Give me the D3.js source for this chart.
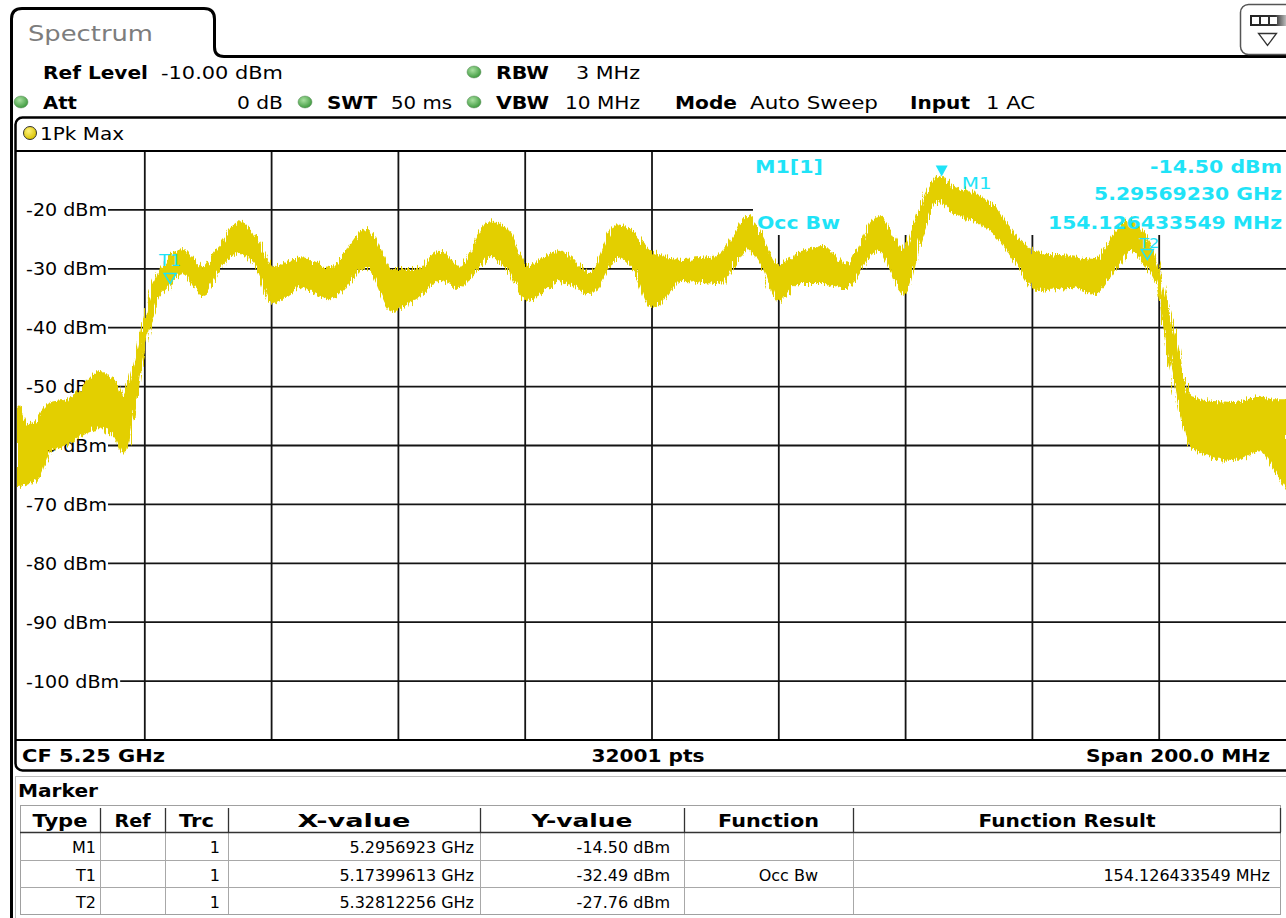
<!DOCTYPE html>
<html><head><meta charset="utf-8">
<script src="https://cdn.jsdelivr.net/npm/d3@7"></script>
<style>html,body{margin:0;padding:0;background:#fff;overflow:hidden}</style>
</head><body>
<svg id="c" width="1286" height="918"></svg>
<script>
// ---------- data ----------
const startMHz = 5150, stopMHz = 5350;
const refLevel = -10, bottomLevel = -110;
const freqOffsetMHz = [0,1.6,3.2,5.1,7.7,10.3,12.9,14.5,15.6,16.6,17.7,18.5,19.2,20.3,21.9,23.5,26.0,29.2,31.4,35.0,
  37.7,40.2,44.5,49.2,55.0,59.1,62.9,66.6,69.7,74.4,77.1,80.3,85.5,90.2,94.5,97.0,100.0,104.9,110.3,112.8,
  115.0,117.5,119.9,123.3,127.1,130.4,135.8,139.7,142.4,145.3,147.5,150.6,153.9,157.9,160.6,166.1,169.9,173.2,175.4,177.6,
  179.8,181.2,182.8,184.4,186.4,191.6,195.9,197.9,200.0];
const traceUpper = [-53.1,-56.5,-55.7,-52.8,-52.3,-50.1,-47.5,-48.5,-49.4,-51.8,-48.9,-45.5,-42.1,-36.5,-31.4,-28.5,-26.8,-29.9,-26.8,-22.1,
  -25.1,-29.7,-28.2,-29.9,-23.4,-30.2,-30.2,-27.1,-29.7,-22.1,-23.4,-29.7,-27.1,-30.7,-22.6,-23.9,-27.3,-28.5,-28.0,-24.6,
  -21.2,-25.1,-29.4,-27.3,-26.3,-29.4,-21.2,-26.8,-19.5,-14.4,-16.1,-17.1,-19.5,-25.1,-27.3,-28.0,-28.5,-23.9,-21.7,-24.3,
  -29.7,-36.1,-42.6,-51.1,-52.3,-52.8,-51.9,-52.3,-52.3];
const traceLower = [-66.7,-66.4,-65.5,-60.8,-59.9,-57.9,-56.9,-57.7,-59.1,-61.3,-57.4,-52.3,-47.2,-42.1,-35.3,-33.1,-30.7,-34.4,-30.7,-27.3,
  -29.7,-35.8,-33.1,-35.0,-29.7,-37.0,-34.8,-31.9,-33.1,-28.0,-29.7,-35.3,-31.9,-34.1,-28.0,-29.7,-36.5,-31.9,-32.4,-29.7,
  -26.5,-29.7,-35.3,-32.4,-32.4,-33.1,-26.8,-34.1,-24.6,-18.3,-20.5,-21.7,-23.9,-29.7,-33.6,-33.1,-34.1,-29.7,-26.8,-28.8,
  -33.6,-42.9,-51.1,-59.1,-61.1,-62.5,-60.8,-63.6,-67.0];
const yTicks = [-20,-30,-40,-50,-60,-70,-80,-90,-100];
const xGridMHz = [5170,5190,5210,5230,5250,5270,5290,5310,5330];

const markerTypes = ["M1","T1","T2"];
const markerFreqMHz = [5295.6923, 5173.99613, 5328.12256];
const markerXLabels = ["5.2956923 GHz","5.17399613 GHz","5.32812256 GHz"];
const markerLevels = [-14.50, -32.49, -27.76];
const markerTrc = ["1","1","1"];
const markerFunctions = ["", "Occ Bw", ""];
const markerResults = ["", "154.126433549 MHz", ""];
const tableHeaders = ["Type","Ref","Trc","X-value","Y-value","Function","Function Result"];

// ---------- drawing ----------
const svg = d3.select("#c");
const FONT = "DejaVu Sans";
const CYAN = "#1fe3f7";
const YEL = "#e3cf00";
function T(p, s, x, y, o = {}) {
  const t = p.append("text").attr("x", x).attr("y", y).text(s)
    .attr("font-family", FONT).attr("font-size", o.size || 17)
    .attr("font-weight", o.bold ? "bold" : "normal")
    .attr("fill", o.fill || "#000").attr("text-anchor", o.anchor || "start");
  if (o.w) t.attr("textLength", o.w).attr("lengthAdjust", "spacingAndGlyphs");
  return t;
}

const defs = svg.append("defs");
const f = defs.append("filter").attr("id", "noise").attr("x", "-2%").attr("y", "-10%").attr("width", "104%").attr("height", "120%");
f.append("feTurbulence").attr("type", "fractalNoise").attr("baseFrequency", "0.8 0.04").attr("numOctaves", 2).attr("seed", 5).attr("result", "t");
f.append("feDisplacementMap").attr("in", "SourceGraphic").attr("in2", "t").attr("scale", 11)
  .attr("xChannelSelector", "R").attr("yChannelSelector", "G");
const gg = defs.append("radialGradient").attr("id", "gdot").attr("cx", "40%").attr("cy", "35%").attr("r", "65%");
gg.append("stop").attr("offset", "0%").attr("stop-color", "#a8e0a0");
gg.append("stop").attr("offset", "100%").attr("stop-color", "#3f9a3f");
const yg = defs.append("radialGradient").attr("id", "ydot").attr("cx", "40%").attr("cy", "35%").attr("r", "65%");
yg.append("stop").attr("offset", "0%").attr("stop-color", "#fff27a");
yg.append("stop").attr("offset", "100%").attr("stop-color", "#d9c200");
const bg = defs.append("linearGradient").attr("id", "bar").attr("x1", "0").attr("x2", "1");
bg.append("stop").attr("offset", "0%").attr("stop-color", "#222");
bg.append("stop").attr("offset", "70%").attr("stop-color", "#333");
bg.append("stop").attr("offset", "100%").attr("stop-color", "#bbb");

// plot geometry via scales
const x = d3.scaleLinear().domain([startMHz, stopMHz]).range([18, 1286]);
const y = d3.scaleLinear().domain([refLevel, bottomLevel]).range([151, 740]);
defs.append("clipPath").attr("id", "plotclip").append("rect")
  .attr("x", 17).attr("y", 151).attr("width", 1272).attr("height", 589);

// ---- frame: tab + panel border ----
svg.append("path").attr("d", "M11.5,918 L11.5,19 Q11.5,8.5 22,8.5 L204,8.5 Q214.5,8.5 214.5,19 L214.5,47 Q214.5,56.5 224,56.5 L1290,56.5")
  .attr("fill", "none").attr("stroke", "#000").attr("stroke-width", 3);
T(svg, "Spectrum", 28, 41, { size: 21, fill: "#7d7d7d", w: 125 });

// top-right icon
svg.append("rect").attr("x", 1240.5).attr("y", 4.5).attr("width", 60).attr("height", 50).attr("rx", 8)
  .attr("fill", "#fff").attr("stroke", "#555").attr("stroke-width", 1.5);
svg.append("rect").attr("x", 1250).attr("y", 15).attr("width", 36).attr("height", 11).attr("fill", "url(#bar)");
[1252, 1261, 1270].forEach(xx => svg.append("rect").attr("x", xx).attr("y", 17).attr("width", 7).attr("height", 7).attr("fill", "#fff"));
svg.append("path").attr("d", "M1258.5,33.5 L1276.5,33.5 L1267.5,45.5 Z").attr("fill", "#fff").attr("stroke", "#333").attr("stroke-width", 1.3);

// ---- header settings ----
const dot = (cx, cy) => svg.append("ellipse").attr("cx", cx).attr("cy", cy).attr("rx", 7).attr("ry", 6)
  .attr("fill", "url(#gdot)").attr("stroke", "#5a8a5a").attr("stroke-width", 0.5);
T(svg, "Ref Level", 43, 79, { bold: true, w: 105 });
T(svg, "-10.00 dBm", 161, 79, { w: 122 });
dot(474, 72);
T(svg, "RBW", 496, 79, { bold: true, w: 53 });
T(svg, "3 MHz", 640, 79, { anchor: "end", w: 64 });
dot(21, 102);
T(svg, "Att", 43, 109, { bold: true, w: 34 });
T(svg, "0 dB", 283, 109, { anchor: "end", w: 46 });
dot(305, 102);
T(svg, "SWT", 327, 109, { bold: true, w: 50 });
T(svg, "50 ms", 391, 109, { w: 61 });
dot(474, 102);
T(svg, "VBW", 496, 109, { bold: true, w: 53 });
T(svg, "10 MHz", 640, 109, { anchor: "end", w: 75 });
T(svg, "Mode", 675, 109, { bold: true, w: 62 });
T(svg, "Auto Sweep", 750, 109, { w: 128 });
T(svg, "Input", 910, 109, { bold: true, w: 60 });
T(svg, "1 AC", 986, 109, { w: 49 });

// ---- diagram box ----
svg.append("rect").attr("x", 15.5).attr("y", 117.5).attr("width", 1290).attr("height", 653).attr("rx", 7)
  .attr("fill", "#fff").attr("stroke", "#000").attr("stroke-width", 2.5);
svg.append("ellipse").attr("cx", 30).attr("cy", 133).attr("rx", 6.5).attr("ry", 6.5)
  .attr("fill", "url(#ydot)").attr("stroke", "#333").attr("stroke-width", 1);
T(svg, "1Pk Max", 40, 140, { w: 84 });

// grid
const grid = svg.append("g");
grid.selectAll("line.v").data(xGridMHz).join("line")
  .attr("x1", d => x(d)).attr("x2", d => x(d)).attr("y1", 151).attr("y2", 740)
  .attr("stroke", "#141414").attr("stroke-width", 1.8);
grid.selectAll("line.h").data(yTicks).join("line")
  .attr("x1", 18).attr("x2", 1286).attr("y1", d => y(d)).attr("y2", d => y(d))
  .attr("stroke", "#141414").attr("stroke-width", 1.8);
// y tick labels with white background
const labG = svg.append("g");
yTicks.forEach(v => {
  const t = T(labG, v + " dBm", 26, y(v) + 6.5, { size: 18 });
  const len = t.node().getComputedTextLength() * 1.06;
  t.attr("textLength", len).attr("lengthAdjust", "spacingAndGlyphs");
  labG.insert("rect", "text").attr("x", 17).attr("y", y(v) - 2).attr("width", 26 + len - 17 + 1).attr("height", 4).attr("fill", "#fff");
});
// marker-info area background
svg.append("rect").attr("x", 753).attr("y", 152).attr("width", 540).attr("height", 83).attr("fill", "#fff");

// plot frame lines
svg.append("line").attr("x1", 15).attr("x2", 1290).attr("y1", 151).attr("y2", 151).attr("stroke", "#000").attr("stroke-width", 2);
svg.append("line").attr("x1", 15).attr("x2", 1290).attr("y1", 740).attr("y2", 740).attr("stroke", "#000").attr("stroke-width", 2);

// trace
const pts = freqOffsetMHz.map((o, i) => ({ f: startMHz + o, hi: traceUpper[i], lo: traceLower[i] }));
const area = d3.area().x(d => x(d.f)).y0(d => y(d.lo)).y1(d => y(d.hi)).curve(d3.curveMonotoneX);
svg.append("g").attr("clip-path", "url(#plotclip)").append("path").datum(pts)
  .attr("d", area).attr("fill", YEL).attr("stroke", YEL).attr("stroke-width", 2).attr("filter", "url(#noise)");

// marker info text
T(svg, "M1[1]", 755, 173, { bold: true, fill: CYAN, w: 68 });
T(svg, "-14.50 dBm", 1282, 173, { bold: true, fill: CYAN, anchor: "end", w: 132 });
T(svg, "5.29569230 GHz", 1282, 200, { bold: true, fill: CYAN, anchor: "end", w: 188 });
T(svg, "Occ Bw", 757, 229, { bold: true, fill: CYAN, w: 83 });
T(svg, "154.126433549 MHz", 1282, 229, { bold: true, fill: CYAN, anchor: "end", w: 234 });

// markers
const mg = svg.append("g");
markerTypes.forEach((m, i) => {
  const mx = x(markerFreqMHz[i]), my = y(markerLevels[i]);
  if (m === "M1") {
    mg.append("path").attr("d", `M${mx - 6},${my - 12} L${mx + 6},${my - 12} L${mx},${my - 1} Z`).attr("fill", CYAN);
    T(mg, m, mx + 20, my + 11, { fill: CYAN, size: 16, w: 30 });
  } else if (m === "T1") {
    mg.append("path").attr("d", `M${mx - 6},${my - 10} L${mx + 6},${my - 10} L${mx},${my} Z`)
      .attr("fill", "none").attr("stroke", CYAN).attr("stroke-width", 1.5);
    T(mg, m, mx, my - 17, { fill: CYAN, size: 16, anchor: "middle", w: 22 });
  } else {
    mg.append("path").attr("d", `M${mx - 6},${my - 6} L${mx + 6},${my - 6} L${mx},${my + 4} Z`)
      .attr("fill", "none").attr("stroke", CYAN).attr("stroke-width", 1.5);
    T(mg, m, mx + 2, my - 8, { fill: CYAN, size: 14, anchor: "middle", w: 20 });
  }
});

// bottom strip
T(svg, "CF 5.25 GHz", 22, 762, { bold: true, w: 143 });
T(svg, "32001 pts", 648, 762, { bold: true, anchor: "middle", w: 113 });
T(svg, "Span 200.0 MHz", 1270, 762, { bold: true, anchor: "end", w: 184 });

// ---- marker table ----
svg.append("rect").attr("x", 15.5).attr("y", 776.5).attr("width", 1290).attr("height", 150).attr("fill", "none").attr("stroke", "#bdbdbd");
T(svg, "Marker", 18, 797, { bold: true, w: 80 });
const colX = [20, 100, 165, 228, 480, 684, 853, 1281];
const rowY = [805.5, 832.5, 860.5, 887.5, 914.5];
const tb = svg.append("g");
tb.append("rect").attr("x", 20.5).attr("y", 805.5).attr("width", 1260).attr("height", 109).attr("fill", "#fff").attr("stroke", "#a0a0a0");
rowY.slice(2, 4).forEach(yy => tb.append("line").attr("x1", 20).attr("x2", 1281).attr("y1", yy).attr("y2", yy).attr("stroke", "#a8a8a8"));
colX.slice(1, 7).forEach(xx => {
  tb.append("line").attr("x1", xx + 0.5).attr("x2", xx + 0.5).attr("y1", 832).attr("y2", 914).attr("stroke", "#a8a8a8");
  tb.append("line").attr("x1", xx + 0.5).attr("x2", xx + 0.5).attr("y1", 808).attr("y2", 832).attr("stroke", "#333").attr("stroke-width", 1.3);
});
tb.append("line").attr("x1", 1280.5).attr("x2", 1280.5).attr("y1", 808).attr("y2", 832).attr("stroke", "#333").attr("stroke-width", 1.3);
tb.append("line").attr("x1", 20).attr("x2", 1281).attr("y1", 832.5).attr("y2", 832.5).attr("stroke", "#333").attr("stroke-width", 1.5);
const hdrW = [55, 36, 35, 113, 101, 101, 177];
tableHeaders.forEach((h, i) => T(tb, h, (colX[i] + colX[i + 1]) / 2, 827, { bold: true, anchor: "middle", w: hdrW[i] }));
markerTypes.forEach((m, i) => {
  const by = 853 + i * 27.5;
  T(tb, m, 96, by, { anchor: "end", size: 16 });
  T(tb, markerTrc[i], 220, by, { anchor: "end", size: 16 });
  T(tb, markerXLabels[i], 474, by, { anchor: "end", size: 16 });
  T(tb, markerLevels[i].toFixed(2) + " dBm", 670, by, { anchor: "end", size: 16 });
  if (markerFunctions[i]) T(tb, markerFunctions[i], 818, by, { anchor: "end", size: 16 });
  if (markerResults[i]) T(tb, markerResults[i], 1270, by, { anchor: "end", size: 16 });
});
</script>
</body></html>
